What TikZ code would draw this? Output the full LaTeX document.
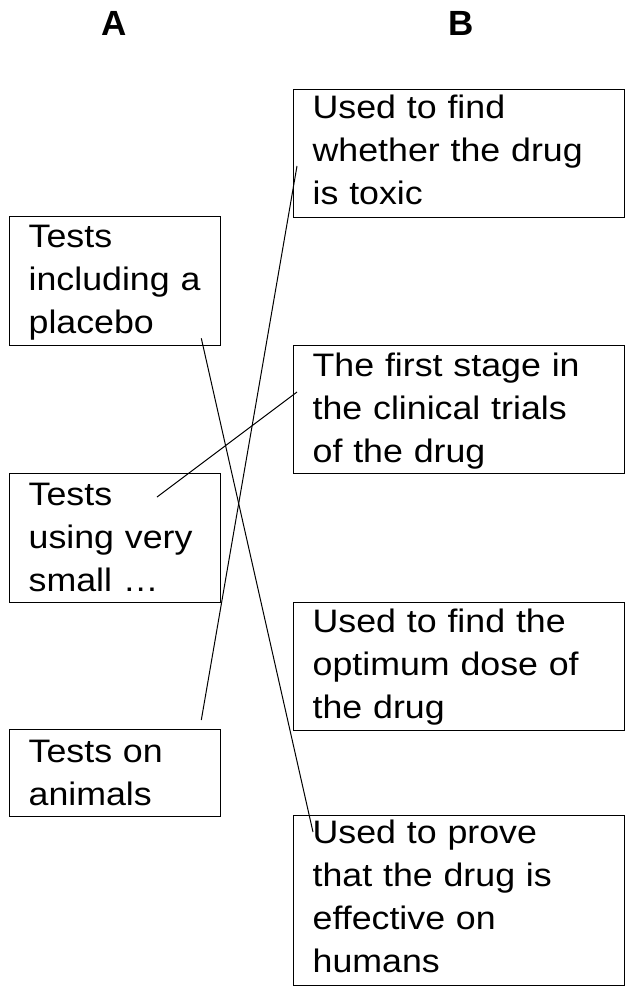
\documentclass[tikz,border=0pt]{standalone}
\usepackage{fontspec}
\setmainfont{Liberation Sans}[FakeStretch=1.1]
\newfontfamily\titlefont{Liberation Sans}
\begin{document}
\begin{tikzpicture}[x=1pt,y=-1pt,
  box/.style={draw, line width=1.3pt, anchor=north west, inner xsep=19pt, inner ysep=0pt,
    align=left, font=\fontsize{32.5}{43}\selectfont},
  acol/.style={box, minimum width=211pt, text width=173pt},
  bcol/.style={box, minimum width=331pt, text width=293pt},
  title/.style={font=\titlefont\fontsize{35}{35}\selectfont\bfseries, anchor=base, inner sep=0pt},
  link/.style={line width=1pt}]
\useasboundingbox (0,0) rectangle (626,987);
\node[title] (ta) at (114,36) {A};
\node[title] (tb) at (461,36) {B};
\node[acol, text height=31pt, text depth=98pt] (a1) at (9,216) {Tests\\including a\\placebo};
\node[acol, text height=32pt, text depth=97pt] (a2) at (9,473) {Tests\\using very\\small \dots};
\node[acol, text height=33pt, text depth=54pt] (a3) at (9,729) {Tests on\\animals};
\node[bcol, text height=29pt, text depth=99pt] (b1) at (293,89) {Used to find\\whether the drug\\is toxic};
\node[bcol, text height=31pt, text depth=97pt] (b2) at (293,345) {The first stage in\\the clinical trials\\of the drug};
\node[bcol, text height=30pt, text depth=98pt] (b3) at (293,602) {Used to find the\\optimum dose of\\the drug};
\node[bcol, text height=28pt, text depth=142pt] (b4) at (293,815) {Used to prove\\that the drug is\\effective on\\humans};
\draw[link] ([shift={(-20,-8)}]a1.south east) -- ([shift={(20,17)}]b4.north west);
\draw[link] ([shift={(148,24)}]a2.north west) -- ([shift={(4,47)}]b2.north west);
\draw[link] ([shift={(-20,-9)}]a3.north east) -- ([shift={(4,77)}]b1.north west);
\end{tikzpicture}
\end{document}
